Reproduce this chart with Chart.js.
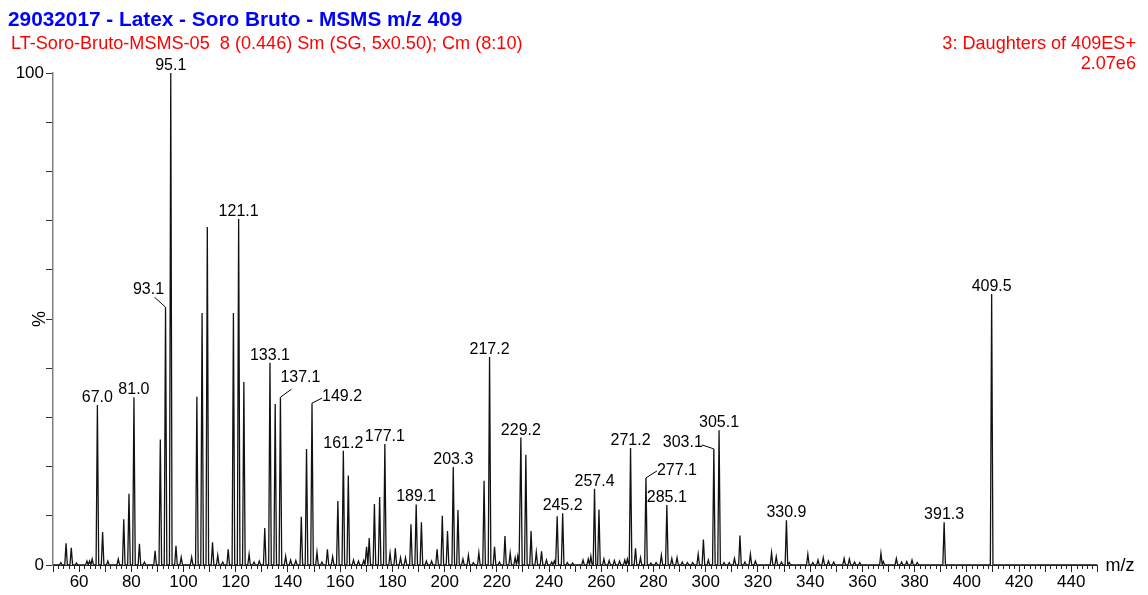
<!DOCTYPE html>
<html>
<head>
<meta charset="utf-8">
<title>29032017 - Latex - Soro Bruto - MSMS m/z 409</title>
<script src="https://cdn.jsdelivr.net/npm/chart.js@4.4.1/dist/chart.umd.min.js"></script>
<style>
  html, body { margin: 0; padding: 0; background: #fff; }
  #wrap { width: 1148px; height: 595px; position: relative; }
</style>
</head>
<body>
<div id="wrap"><canvas id="ms" width="1148" height="595"></canvas></div>
<script>
// Header texts
const titleText = '29032017 - Latex - Soro Bruto - MSMS m/z 409';
const runText = 'LT-Soro-Bruto-MSMS-05  8 (0.446) Sm (SG, 5x0.50); Cm (8:10)';
const functionText = '3: Daughters of 409ES+';
const intensityText = '2.07e6';

// Centroid positions (m/z) of the profile peaks
const peakMz = [
  53, 55, 57, 59, 63, 64, 65, 67.0, 69, 71, 75, 77.1, 79.1, 81.0, 83.1, 85,
  89.1, 91.1, 93.1, 95.1, 97.1, 99.1, 103.1, 105.1, 107.1, 109.1, 111.1, 113.1,
  115, 117.1, 119.1, 121.1, 123.1, 125.1, 127, 129, 131.1, 133.1, 135.1, 137.1,
  139.1, 141, 143, 145.1, 147.1, 149.2, 151.1, 153, 155.1, 157.1, 159.1, 161.2,
  163.1, 165.1, 167, 169, 170.1, 171.1, 173.1, 175.1, 177.1, 179.1, 181.1, 183.1,
  185, 187.1, 189.1, 191.1, 193, 195, 197.1, 199.1, 201.1, 203.3, 205.1, 207,
  209.1, 211, 213.1, 215.1, 217.2, 219.1, 221, 223.1, 225.1, 227, 228, 229.2,
  231.1, 233.1, 235.1, 237.1, 239, 241, 242, 243.1, 245.2, 247, 249, 253, 255,
  256, 257.4, 259.1, 261, 263, 265, 267, 269, 270, 271.2, 273.1, 275, 277.1,
  279, 281, 283, 285.1, 287, 289, 291, 293, 295, 297.1, 299.1, 301, 303.1,
  305.1, 307, 309, 311, 313.1, 315, 317.1, 319, 325.2, 327, 329, 330.9, 332,
  339.1, 341, 343, 345, 347, 349, 353, 355, 357, 359, 367.1, 368, 373, 375,
  377, 379, 381, 391.3, 409.5
];

// Relative intensity (%) of each peak, same order as peakMz
const peakPct = [
  0.5, 4.4, 3.5, 0.4, 0.8, 0.8, 1.2, 32.5, 6.7, 0.8, 1.2, 9.3, 14.5, 34.1, 4.3, 0.6,
  2.9, 25.5, 52.4, 100, 3.9, 1.6, 1.6, 34.2, 51.2, 68.7, 4.6, 2.0,
  0.6, 3.2, 51.2, 70.3, 37.2, 2.2, 0.6, 0.8, 7.5, 41.1, 32.7, 34.1,
  1.8, 1.0, 0.9, 9.8, 23.6, 32.9, 2.6, 0.6, 3.2, 1.7, 13.0, 23.2,
  18.2, 1.0, 0.8, 0.9, 3.7, 5.5, 12.4, 13.8, 24.6, 2.4, 3.4, 1.5,
  1.5, 8.3, 12.3, 8.7, 0.8, 0.8, 3.2, 10.0, 6.9, 19.9, 11.2, 1.2,
  2.0, 0.5, 2.5, 17.1, 42.3, 3.7, 0.6, 5.9, 2.4, 1.5, 1.8, 25.9,
  22.4, 6.9, 2.6, 2.8, 1.0, 0.6, 0.8, 9.9, 10.5, 0.5, 0.4, 1.0, 1.2,
  1.8, 15.5, 11.3, 1.2, 0.9, 0.9, 0.8, 1.0, 1.2, 23.8, 3.4, 1.5, 17.7,
  0.4, 0.5, 2.0, 12.2, 1.3, 1.5, 0.6, 0.5, 0.5, 2.2, 5.2, 1.0, 23.6,
  27.4, 0.5, 0.5, 1.3, 6.0, 0.6, 2.2, 0.8, 2.5, 1.7, 0.6, 9.1, 0.5,
  2.2, 0.5, 1.0, 1.5, 0.8, 0.6, 1.3, 1.2, 0.6, 0.5, 2.4, 0.7, 1.3, 0.6,
  0.7, 1.0, 0.5, 8.7, 55.1
];

// Peaks annotated with their m/z
const labeledMz = [
  67.0, 81.0, 93.1, 95.1, 121.1, 133.1, 137.1, 149.2, 161.2, 177.1, 189.1, 203.3,
  217.2, 229.2, 245.2, 257.4, 271.2, 277.1, 285.1, 303.1, 305.1, 330.9, 391.3, 409.5
];

// Axis ranges
const mzMin = 50, mzMax = 450;
const pctMin = 0, pctMax = 100;

// Annotations that sit beside their peak, joined to it by a short leader
const leaderLayout = {
  '93.1':  { line: [-11, -10], text: [-17, -19] },
  '137.1': { line: [11, -8],   text: [20, -20.5] },
  '149.2': { line: [10, -5],   text: [30, -8] },
  '277.1': { line: [11, -7],   text: [31, -9] },
  '303.1': { line: [-12, -4],  text: [-31, -8] }
};

const FONT = '"Liberation Sans", Arial, sans-serif';
const HALF_WIDTH = 0.5; // half base width of each profile peak, in m/z

// Profile trace: each peak rises from the baseline to its apex and back
function buildProfile() {
  const idx = peakMz.map((m, i) => i).sort((a, b) => peakMz[a] - peakMz[b]);
  const pts = [{ x: mzMin, y: 0 }];
  idx.forEach(i => {
    const m = peakMz[i], h = peakPct[i];
    pts.push({ x: m - HALF_WIDTH, y: 0 });
    pts.push({ x: m, y: h });
    pts.push({ x: m + HALF_WIDTH, y: 0 });
  });
  pts.push({ x: mzMax, y: 0 });
  return pts;
}

function heightAt(mz) {
  const i = peakMz.findIndex(m => Math.abs(m - mz) < 1e-6);
  return i >= 0 ? peakPct[i] : 0;
}

const headerPlugin = {
  id: 'header',
  afterDraw(chart) {
    const ctx = chart.ctx;
    ctx.save();
    ctx.textBaseline = 'alphabetic';
    ctx.textAlign = 'left';
    ctx.fillStyle = '#0000ff';
    ctx.font = 'bold 20.8px ' + FONT;
    ctx.fillText(titleText, 8, 26);
    ctx.fillStyle = '#ff0000';
    ctx.font = '18.1px ' + FONT;
    ctx.fillText(runText, 11, 49);
    ctx.textAlign = 'right';
    ctx.fillText(functionText, 1136, 49);
    ctx.fillText(intensityText, 1136, 69);

    // axis captions
    const x = chart.scales.x, y = chart.scales.y;
    ctx.fillStyle = '#000';
    ctx.textAlign = 'left';
    ctx.textBaseline = 'middle';
    ctx.font = '18px ' + FONT;
    ctx.fillText('m/z', x.right + 8, x.top + 1);
    ctx.save();
    ctx.translate(40, y.getPixelForValue(50));
    ctx.rotate(-Math.PI / 2);
    ctx.textAlign = 'center';
    ctx.fillText('%', 0, 0);
    ctx.restore();
    ctx.restore();
  }
};

// Short ticks every 2 m/z between the labelled 10-unit ticks
const minorTickPlugin = {
  id: 'minorTicks',
  afterDraw(chart) {
    const x = chart.scales.x, ctx = chart.ctx;
    ctx.save();
    ctx.strokeStyle = '#222';
    ctx.lineWidth = 1;
    ctx.beginPath();
    for (let v = mzMin; v <= mzMax; v += 2) {
      if (v % 10 === 0) continue;
      const px = Math.round(x.getPixelForValue(v)) + 0.5;
      ctx.moveTo(px, x.top);
      ctx.lineTo(px, x.top + 4);
    }
    ctx.stroke();
    ctx.restore();
  }
};

const peakLabelPlugin = {
  id: 'peakLabels',
  afterDatasetsDraw(chart) {
    const x = chart.scales.x, y = chart.scales.y, ctx = chart.ctx;
    ctx.save();
    ctx.font = '16px ' + FONT;
    ctx.fillStyle = '#000';
    ctx.strokeStyle = '#000';
    ctx.lineWidth = 1;
    ctx.textAlign = 'center';
    ctx.textBaseline = 'alphabetic';
    const capHalf = 16 * 0.716 / 2;
    labeledMz.forEach(mz => {
      const txt = mz.toFixed(1);
      const px = x.getPixelForValue(mz);
      const py = y.getPixelForValue(heightAt(mz));
      const lay = leaderLayout[txt];
      let cx = px, cy = py - 3 - capHalf;
      if (lay) {
        ctx.beginPath();
        ctx.moveTo(px, py);
        ctx.lineTo(px + lay.line[0], py + lay.line[1]);
        ctx.stroke();
        cx = px + lay.text[0];
        cy = py + lay.text[1];
      }
      ctx.fillText(txt, cx, cy + capHalf);
    });
    ctx.restore();
  }
};

new Chart(document.getElementById('ms'), {
  type: 'line',
  data: {
    datasets: [{
      data: buildProfile(),
      borderColor: '#111',
      borderWidth: 1.3,
      pointRadius: 0,
      tension: 0,
      fill: false
    }]
  },
  options: {
    responsive: false,
    animation: false,
    events: [],
    layout: { padding: { top: 73, right: 50.6, bottom: 0, left: 0 } },
    plugins: { legend: { display: false }, tooltip: { enabled: false }, title: { display: false } },
    scales: {
      x: {
        type: 'linear',
        min: mzMin,
        max: mzMax,
        afterFit(s) { s.height = 30; },
        border: { display: true, color: '#222', width: 1 },
        grid: { drawOnChartArea: false, drawTicks: true, tickLength: 7, tickColor: '#222', tickWidth: 1 },
        ticks: {
          stepSize: 10,
          autoSkip: false,
          maxRotation: 0,
          padding: 0,
          color: '#000',
          font: { family: FONT, size: 17 },
          callback: v => (v % 20 === 0 && v > mzMin && v < mzMax) ? String(v) : ''
        }
      },
      y: {
        type: 'linear',
        min: pctMin,
        max: pctMax,
        afterFit(s) { s.width = 53; },
        border: { display: true, color: '#808080', width: 1.5 },
        grid: { drawOnChartArea: false, drawTicks: true, tickLength: 7, tickColor: '#333', tickWidth: 1 },
        ticks: {
          stepSize: 10,
          autoSkip: false,
          padding: 2,
          color: '#000',
          font: { family: FONT, size: 17 },
          callback: v => (v === pctMin || v === pctMax) ? String(v) : ''
        }
      }
    }
  },
  plugins: [headerPlugin, minorTickPlugin, peakLabelPlugin]
});
</script>
</body>
</html>
